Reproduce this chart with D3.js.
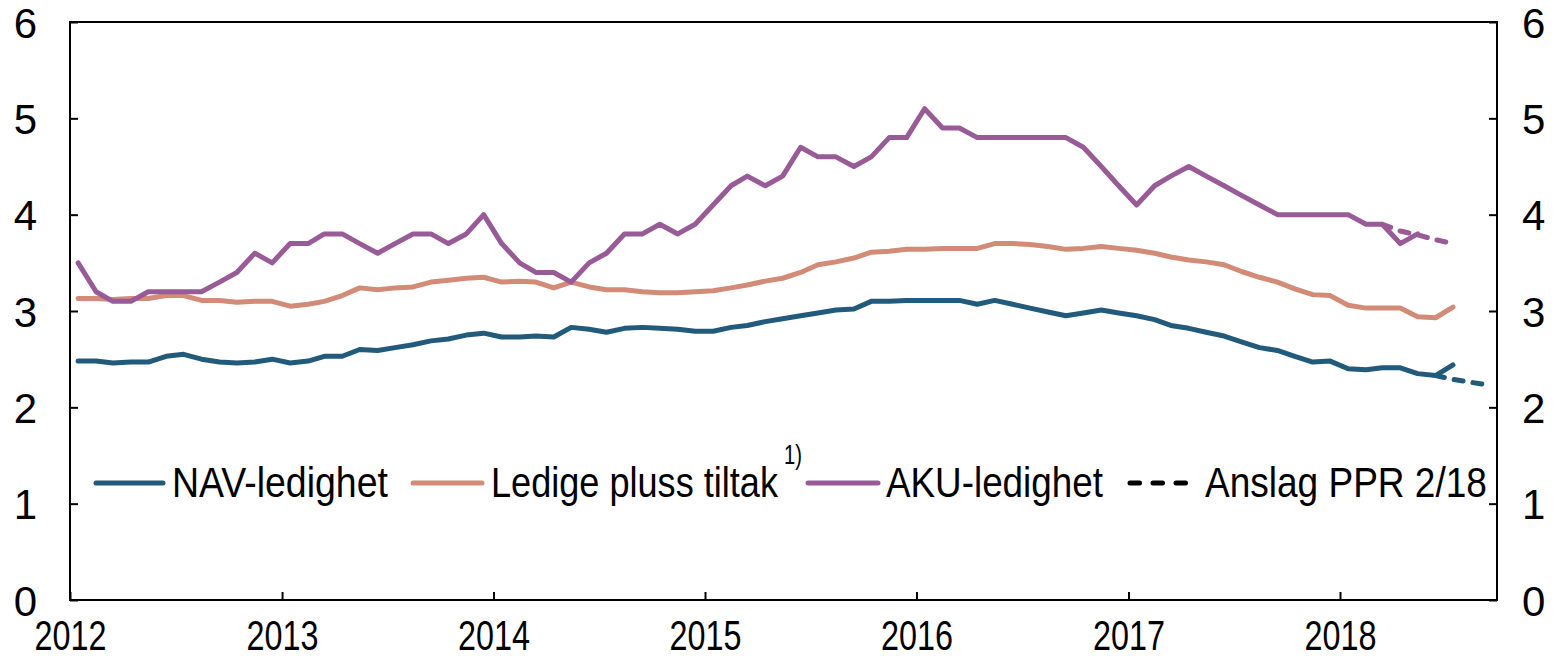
<!DOCTYPE html>
<html>
<head>
<meta charset="utf-8">
<script src="https://cdn.jsdelivr.net/npm/d3@7"></script>
<style>
	body { margin: 0; background: #fff; }
	svg text { font-family: "Liberation Sans", Arial, sans-serif; fill: #000; }
</style>
</head>
<body>
<div id="chart"></div>
<script>
// Data: monthly values from Jan 2012, in percent of labour force
// ==============================================================
var navValues = [
	2.48, 2.48, 2.46, 2.47, 2.47, 2.53, 2.55, 2.50, 2.47, 2.46, 2.47, 2.50,
	2.46, 2.48, 2.53, 2.53, 2.60, 2.59, 2.62, 2.65, 2.69, 2.71, 2.75, 2.77,
	2.73, 2.73, 2.74, 2.73, 2.83, 2.81, 2.78, 2.82, 2.83, 2.82, 2.81, 2.79,
	2.79, 2.83, 2.85, 2.89, 2.92, 2.95, 2.98, 3.01, 3.02, 3.10, 3.10, 3.11,
	3.11, 3.11, 3.11, 3.07, 3.11, 3.07, 3.03, 2.99, 2.95, 2.98, 3.01, 2.98,
	2.95, 2.91, 2.85, 2.82, 2.78, 2.74, 2.68, 2.62, 2.59, 2.53, 2.47, 2.48,
	2.40, 2.39, 2.41, 2.41, 2.35, 2.33, 2.44
];

var ledigeValues = [
	3.13, 3.13, 3.12, 3.13, 3.13, 3.16, 3.16, 3.11, 3.11, 3.09, 3.10, 3.10,
	3.05, 3.07, 3.10, 3.16, 3.24, 3.22, 3.24, 3.25, 3.30, 3.32, 3.34, 3.35,
	3.30, 3.31, 3.30, 3.24, 3.30, 3.25, 3.22, 3.22, 3.20, 3.19, 3.19, 3.20,
	3.21, 3.24, 3.27, 3.31, 3.34, 3.40, 3.48, 3.51, 3.55, 3.61, 3.62, 3.64,
	3.64, 3.65, 3.65, 3.65, 3.70, 3.70, 3.69, 3.67, 3.64, 3.65, 3.67, 3.65,
	3.63, 3.60, 3.56, 3.53, 3.51, 3.48, 3.41, 3.35, 3.30, 3.23, 3.17, 3.16,
	3.06, 3.03, 3.03, 3.03, 2.94, 2.93, 3.04
];

var akuValues = [
	3.5, 3.2, 3.1, 3.1, 3.2, 3.2, 3.2, 3.2, 3.3, 3.4, 3.6, 3.5,
	3.7, 3.7, 3.8, 3.8, 3.7, 3.6, 3.7, 3.8, 3.8, 3.7, 3.8, 4.0,
	3.7, 3.5, 3.4, 3.4, 3.3, 3.5, 3.6, 3.8, 3.8, 3.9, 3.8, 3.9,
	4.1, 4.3, 4.4, 4.3, 4.4, 4.7, 4.6, 4.6, 4.5, 4.6, 4.8, 4.8,
	5.1, 4.9, 4.9, 4.8, 4.8, 4.8, 4.8, 4.8, 4.8, 4.7, 4.5, 4.3,
	4.1, 4.3, 4.4, 4.5, 4.4, 4.3, 4.2, 4.1, 4.0, 4.0, 4.0, 4.0,
	4.0, 3.9, 3.9, 3.7, 3.8
];

// PPR 2/18 forecasts, first value is month index given by *Start
var navForecastStart = 77;
var navForecast = [2.33, 2.29, 2.26, 2.23];
var akuForecastStart = 74;
var akuForecast = [3.9, 3.83, 3.79, 3.74, 3.70];

var yearTicks = [2012, 2013, 2014, 2015, 2016, 2017, 2018];
var yTicks = [0, 1, 2, 3, 4, 5, 6];

var legendNames = ["NAV-ledighet", "Ledige pluss tiltak", "AKU-ledighet", "Anslag PPR 2/18"];
var colors = ["#215a7a", "#d28b76", "#985b98", "#000000"];

// Chart size
// ==========
var svgWidth = 1560;
var svgHeight = 660;

var margin = {
	top: 22,
	right: 63,
	bottom: 60,
	left: 70
};

var width = svgWidth - margin.left - margin.right;
var height = svgHeight - margin.top - margin.bottom;

var svg = d3.select("#chart")
	.append("svg")
	.attr("width", svgWidth)
	.attr("height", svgHeight);

var chartGroup = svg.append("g")
	.attr("transform", `translate(${margin.left}, ${margin.top})`);

// Scales
// ======
var xScale = d3.scaleTime()
	.domain([new Date(2012, 0, 1), new Date(2018, 8, 29)])
	.range([0, width]);

var yScale = d3.scaleLinear()
	.domain([0, 6])
	.range([height, 0]);

// month index -> mid-month date
function monthDate(i) {
	return new Date(2012, i, 15);
}

function toPoints(values, start) {
	return values.map((v, i) => ({ date: monthDate(start + i), value: v }));
}

var line = d3.line()
	.x(d => xScale(d.date))
	.y(d => yScale(d.value));

// squeeze a text horizontally to a given width (source chart uses narrow text)
function narrow(sel, x, y, w) {
	var len = sel.node().getComputedTextLength();
	sel.attr("x", 0)
		.attr("y", 0)
		.attr("transform", `translate(${x}, ${y}) scale(${w / len}, 1)`);
}

// Axes
// ====
var bottomAxis = d3.axisBottom(xScale)
	.tickValues(yearTicks.map(y => new Date(y, 0, 1)))
	.tickFormat(d3.timeFormat("%Y"))
	.tickSizeInner(-8)
	.tickSizeOuter(0);

var leftAxis = d3.axisLeft(yScale)
	.tickValues(yTicks)
	.tickFormat(d3.format("d"))
	.tickSizeInner(-8)
	.tickSizeOuter(0)
	.tickPadding(33);

var rightAxis = d3.axisRight(yScale)
	.tickValues(yTicks)
	.tickFormat(d3.format("d"))
	.tickSizeInner(-8)
	.tickSizeOuter(0)
	.tickPadding(25);

var xAxis = chartGroup.append("g")
	.attr("transform", `translate(0, ${height})`)
	.call(bottomAxis);

var yAxisLeft = chartGroup.append("g")
	.call(leftAxis);

var yAxisRight = chartGroup.append("g")
	.attr("transform", `translate(${width}, 0)`)
	.call(rightAxis);

chartGroup.selectAll(".tick text")
	.style("font-family", '"Liberation Sans", Arial, sans-serif')
	.attr("fill", "#000");

// year labels, narrow
xAxis.selectAll("text")
	.attr("dy", 0)
	.attr("font-size", 42)
	.each(function () {
		narrow(d3.select(this), 0, 50, 72);
	});

[yAxisLeft, yAxisRight].forEach(function (ax) {
	ax.selectAll("text")
		.attr("font-size", 42)
		.attr("dy", "0.36em");
});

chartGroup.selectAll(".domain").remove();
chartGroup.selectAll(".tick line")
	.attr("stroke", "#000")
	.attr("stroke-width", 2);

// plot frame
chartGroup.append("rect")
	.attr("x", 0)
	.attr("y", 0)
	.attr("width", width)
	.attr("height", height)
	.attr("fill", "none")
	.attr("stroke", "#000")
	.attr("stroke-width", 2);

// Lines
// =====
var solidSeries = [
	{ values: navValues, color: colors[0] },
	{ values: ledigeValues, color: colors[1] },
	{ values: akuValues, color: colors[2] }
];

solidSeries.forEach(function (s) {
	chartGroup.append("path")
		.datum(toPoints(s.values, 0))
		.attr("d", line)
		.attr("fill", "none")
		.attr("stroke", s.color)
		.attr("stroke-width", 5)
		.attr("stroke-linejoin", "round")
		.attr("stroke-linecap", "round");
});

var forecastSeries = [
	{ values: akuForecast, start: akuForecastStart, color: colors[2] },
	{ values: navForecast, start: navForecastStart, color: colors[0] }
];

forecastSeries.forEach(function (s) {
	chartGroup.append("path")
		.datum(toPoints(s.values, s.start))
		.attr("d", line)
		.attr("fill", "none")
		.attr("stroke", s.color)
		.attr("stroke-width", 5)
		.attr("stroke-dasharray", "9,10")
		.attr("stroke-linecap", "round");
});

// Legend
// ======
var legendY = 483;
var legendItems = [
	{ x1: 96, x2: 163, tx: 172, tw: 216, dashed: false },
	{ x1: 413, x2: 482, tx: 491, tw: 287, dashed: false },
	{ x1: 808, x2: 878, tx: 886, tw: 217, dashed: false },
	{ x1: 1130, x2: 1186, tx: 1205, tw: 282, dashed: true }
];

var legend = svg.append("g");

legendItems.forEach(function (item, i) {
	legend.append("line")
		.attr("x1", item.x1)
		.attr("x2", item.x2)
		.attr("y1", legendY)
		.attr("y2", legendY)
		.attr("stroke", colors[i])
		.attr("stroke-width", 5)
		.attr("stroke-linecap", "round")
		.attr("stroke-dasharray", item.dashed ? "9.5,13.5" : null);

	var t = legend.append("text")
		.attr("font-size", 42)
		.text(legendNames[i]);
	narrow(t, item.tx, legendY + 14, item.tw);
});

// footnote marker on "Ledige pluss tiltak"
var note = legend.append("text")
	.attr("font-size", 27)
	.text("1)");
narrow(note, 784, 464, 18);
</script>
</body>
</html>
